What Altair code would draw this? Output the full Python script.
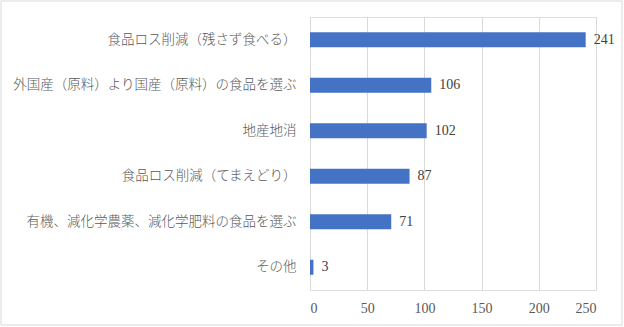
import altair as alt
import pandas as pd

categories = [
    "食品ロス削減（残さず食べる）",
    "外国産（原料）より国産（原料）の食品を選ぶ",
    "地産地消",
    "食品ロス削減（てまえどり）",
    "有機、減化学農薬、減化学肥料の食品を選ぶ",
    "その他",
]
values = [241, 106, 102, 87, 71, 3]
x_ticks = [0, 50, 100, 150, 200, 250]

df = pd.DataFrame({"cat": categories, "val": values})
FONT = "Liberation Serif, Noto Sans CJK JP"
W, H = 286, 273

base = alt.Chart(df)
y = alt.Y("cat:N", sort=categories, title=None,
          scale=alt.Scale(paddingInner=0.67, paddingOuter=0.335),
          axis=alt.Axis(labelFontSize=13.5, labelColor="#595959", labelFont=FONT,
                        labelFontWeight=300,
                        labelPadding=14, ticks=False, domainColor="#d9d9d9",
                        labelLimit=400))
x = alt.X("val:Q", title=None,
          scale=alt.Scale(domain=[0, 250], nice=False),
          axis=alt.Axis(values=x_ticks, grid=True, gridColor="#d9d9d9",
                        domain=False, ticks=False, labelFontSize=14,
                        labelColor="#595959", labelFont=FONT, labelPadding=11))

bars = base.mark_bar(color="#4472C4").encode(x=x, y=y)
texts = base.mark_text(align="left", baseline="middle", dx=8, fontSize=14,
                       font=FONT, color="#404040").encode(
    x="val:Q", y=alt.Y("cat:N", sort=categories), text="val:Q")

border = alt.Chart(pd.DataFrame({"a": [0]})).mark_rect(
    fill=None, stroke="#d9d9d9", strokeWidth=1).encode(
    x=alt.value(-309), x2=alt.value(312), y=alt.value(-16), y2=alt.value(308))

chart = alt.layer(bars, texts, border).properties(
    width=W, height=H,
    autosize=alt.AutoSizeParams(type="none"),
    padding={"left": 310, "top": 17, "right": 28, "bottom": 37},
).configure_view(stroke=None).configure(background="white")

chart.save("out.html", embed_options={"renderer": "svg", "actions": False})
